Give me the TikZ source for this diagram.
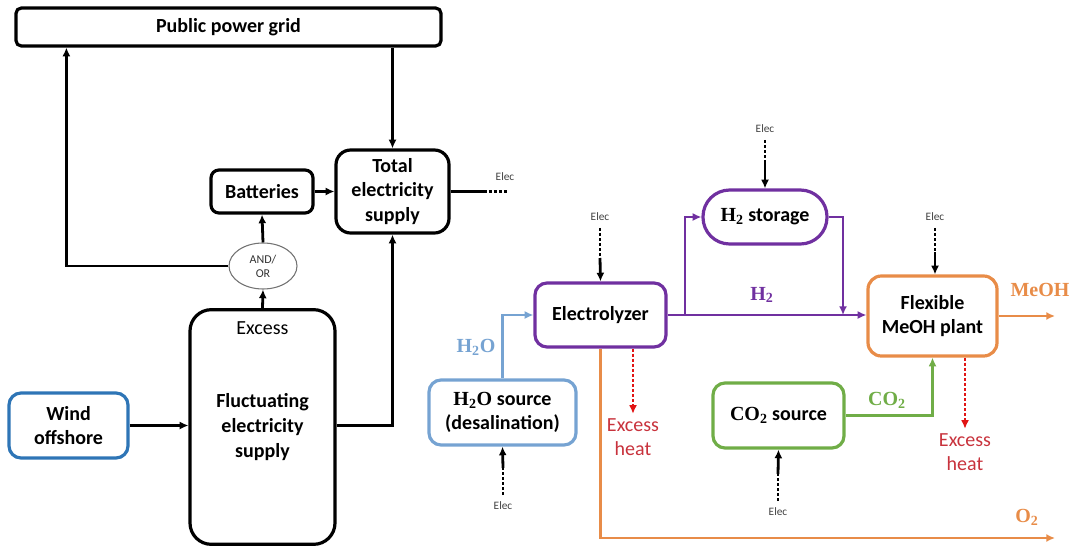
\documentclass[tikz,border=0pt]{standalone}
\usepackage{fontspec}
\setmainfont{Carlito}
\newfontfamily\chem{Liberation Serif}
\usetikzlibrary{shapes.geometric,arrows.meta,calc}
\definecolor{cwind}{RGB}{46,117,182}
\definecolor{cwater}{RGB}{118,163,210}
\definecolor{cpurple}{RGB}{112,48,160}
\definecolor{corange}{RGB}{232,140,72}
\definecolor{cgreen}{RGB}{112,173,71}
\definecolor{cheat}{RGB}{200,50,60}
\definecolor{cdot}{RGB}{225,20,20}
\newcommand{\ch}[2]{{\chem\bfseries #1\textsubscript{#2}}}
\begin{document}
\begin{tikzpicture}[x=0.75pt,y=-0.75pt,
  box/.style={draw,line width=2.4pt,align=center,inner sep=2pt,
    font=\bfseries\fontsize{15}{18.5}\selectfont},
  conn/.style={line width=2.1pt,-{Latex[length=6.5pt,width=6pt]}},
  line/.style={line width=2.1pt},
  elecdot/.style={line width=2.1pt,dash pattern=on 2.2pt off 1.6pt},
  heatdot/.style={line width=2.1pt,cdot,dash pattern=on 2.2pt off 1.6pt,-{Latex[length=6.5pt,width=6pt]}},
  elec/.style={font=\fontsize{8.5}{10}\selectfont,text=black!75,inner sep=1pt},
  flowlab/.style={font=\chem\bfseries\fontsize{15}{18}\selectfont},
  heat/.style={align=center,text=cheat,font=\fontsize{15}{18}\selectfont}]
\useasboundingbox (0,0) rectangle (1071,546);

% ---------- left part ----------
\node[box,rounded corners=4pt,minimum width=318.75pt,minimum height=28.5pt] (grid) at (228.5,27) {Public power grid};
\node[box,rounded corners=6pt,minimum width=76.5pt,minimum height=32.25pt] (batt) at (262,191.5) {Batteries};
\node[box,rounded corners=11pt,minimum width=84.75pt,minimum height=62.25pt] (total) at (392.5,191.5) {Total\\electricity\\supply};
\node[draw=black!55,line width=0.8pt,ellipse,minimum width=51pt,minimum height=34.5pt,inner sep=0pt,
  align=center,text=black!80,font=\fontsize{9}{10.5}\selectfont] (andor) at (263,266) {AND/\\OR};
\node[box,rounded corners=16pt,minimum width=108.75pt,minimum height=176pt] (fluct) at (262.5,427) {\raisebox{-4pt}{\parbox{100pt}{\centering Fluctuating\\electricity\\supply}}};
\node[font=\fontsize{15}{18}\selectfont] (exc) at (262.5,328) {Excess};
\node[box,draw=cwind,rounded corners=9pt,minimum width=89.25pt,minimum height=48.75pt] (wind) at (68.5,425.5) {Wind\\offshore};

\draw[conn] (wind.east) -- (wind.east -| fluct.west);
\draw[conn] (wind.east -| fluct.east) -| (total.south);
\draw[conn] (fluct.north) -- (andor.south);
\draw[conn] (andor.north) -- (batt.south);
\draw[conn] (batt.east) -- (batt.east -| total.west);
\draw[conn] (andor.west) -| ([xshift=39pt]grid.south west);
\draw[conn] (grid.south -| total.north) -- (total.north);
\draw[line] (total.east) -- ++(33,0) coordinate (te);
\draw[elecdot] (te) -- ++(24,0);
\node[elec] (e1) at (505,177) {Elec};

% ---------- right part ----------
\node[box,draw=cpurple,rounded corners=9pt,minimum width=98.25pt,minimum height=48pt] (elz) at (600.5,315) {Electrolyzer};
\node[box,draw=cwater,rounded corners=9pt,minimum width=110.25pt,minimum height=48.75pt] (h2os) at (502.5,412.5) {\ch{H}{2}{\chem\bfseries O} source\\(desalination)};
\node[box,draw=cpurple,rounded corners=20pt,minimum width=93pt,minimum height=40.5pt] (stor) at (765,217) {\ch{H}{2} storage};
\node[box,draw=corange,rounded corners=10pt,minimum width=96.75pt,minimum height=60pt] (meoh) at (932.5,316) {Flexible\\MeOH plant};
\node[box,draw=cgreen,rounded corners=9pt,minimum width=98.25pt,minimum height=48.75pt] (co2s) at (778.5,415.5) {{\chem\bfseries C}\ch{O}{2} source};

% flows
\draw[conn,cwater] (h2os.north) |- (elz.west);
\node[flowlab,text=cwater] (lh2o) at (476,347) {H\textsubscript{2}O};
\draw[conn,cpurple] (elz.east) -- (elz.east -| meoh.west);
\coordinate (br) at (685,315);
\draw[conn,cpurple] (br) |- (stor.west);
\coordinate (mg) at (843,315);
\draw[conn,cpurple] (stor.east) -| (mg);
\node[flowlab,text=cpurple] (lh2) at (762,295) {H\textsubscript{2}};
\draw[conn,cgreen] (co2s.east) -| (meoh.south);
\node[flowlab,text=cgreen] (lco2) at (887,400) {CO\textsubscript{2}};
\coordinate (mo) at (1055,316);
\draw[conn,corange] (meoh.east) -- (mo);
\node[flowlab,text=corange] (lmeoh) at (1040,290) {MeOH};
\coordinate (o2e) at (1055,538);
\draw[conn,corange] (elz.south) |- (o2e);
\node[flowlab,text=corange] (lo2) at (1027,517) {O\textsubscript{2}};

% excess heat
\node[heat] (heat1) at (633,437) {Excess\\heat};
\draw[heatdot] (elz.south -| heat1.north) -- (heat1.north);
\node[heat] (heat2) at (965,452) {Excess\\heat};
\draw[heatdot] (meoh.south -| heat2.north) -- (heat2.north);

% elec inputs
\node[elec] (e2) at (600,217) {Elec};
\coordinate (e2m) at (600,258);
\draw[elecdot] ([yshift=-4pt]e2.south) -- (e2m);
\draw[conn] (e2m) -- (elz.north);

\node[elec] (e3) at (765,129) {Elec};
\coordinate (e3m) at (765,162);
\draw[elecdot] ([yshift=-4pt]e3.south) -- (e3m);
\draw[conn] (e3m) -- (stor.north);

\node[elec] (e4) at (935,217) {Elec};
\coordinate (e4m) at (935,252);
\draw[elecdot] ([yshift=-4pt]e4.south) -- (e4m);
\draw[conn] (e4m) -- (e4m |- meoh.north);

\node[elec] (e5) at (503,506) {Elec};
\coordinate (e5m) at (503,468);
\draw[elecdot] ([yshift=4pt]e5.north) -- (e5m);
\draw[conn] (e5m) -- (h2os.south);

\node[elec] (e6) at (778,512) {Elec};
\coordinate (e6m) at (778,474);
\draw[elecdot] ([yshift=4pt]e6.north) -- (e6m);
\draw[conn] (e6m) -- (co2s.south);
\end{tikzpicture}
\end{document}
